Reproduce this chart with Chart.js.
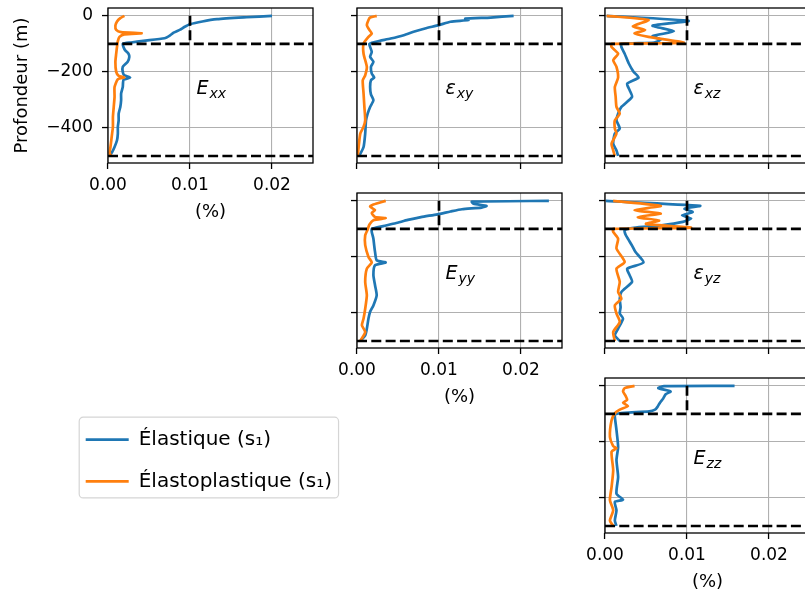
<!DOCTYPE html>
<html>
<head>
<meta charset="utf-8">
<script src="https://cdn.jsdelivr.net/npm/chart.js@4/dist/chart.umd.min.js"></script>
<style>
  body { margin: 0; background: #fff; width: 805px; height: 591px; overflow: hidden; position: relative; }
  .panel { position: absolute; }
</style>
</head>
<body>
<script>
// axes
const xTicks = [0, 0.01, 0.02];
const xTickLabels = ['0.00', '0.01', '0.02'];
const yTicks = [0, -200, -400];
const yTickLabels = ['0', '−200', '−400'];
const seriesNames = ['Élastique (s₁)', 'Élastoplastique (s₁)'];
const layerDepths = [-100, -500];   // lignes horizontales en tirets
const markerStrain = 0.01;          // tiret vertical de 0 à -100 m
const labelPos = [0.0108, -280];    // position du nom de la composante

// profils : [profondeur (m), déformation (%)]
const exxElastic = [[0,0.0200],[-5,0.0169],[-12,0.0133],[-20,0.0115],[-30,0.0100],[-40,0.0093],[-49,0.0088],[-60,0.0080],[-69,0.0076],[-80,0.0069],[-89,0.0043],[-95,0.0028],[-100,0.0018],[-112,0.0019],[-123,0.0021],[-135,0.0025],[-146,0.0026],[-164,0.0024],[-182,0.0018],[-200,0.0018],[-212,0.0020],[-220,0.0027],[-228,0.0019],[-254,0.0018],[-277,0.0016],[-301,0.0016],[-325,0.0015],[-349,0.0013],[-373,0.0013],[-396,0.0012],[-420,0.0012],[-444,0.0011],[-468,0.0008],[-486,0.0005],[-500,0.0002]];
const exxPlastic = [[0,0.0020],[-8,0.0015],[-20,0.0011],[-35,0.0009],[-50,0.0010],[-58,0.0016],[-62,0.0041],[-66,0.0020],[-75,0.0014],[-90,0.0012],[-110,0.0011],[-135,0.0010],[-165,0.0009],[-200,0.0010],[-214,0.0013],[-220,0.0020],[-226,0.0012],[-254,0.0008],[-289,0.0008],[-325,0.0007],[-361,0.0006],[-396,0.0006],[-420,0.0005],[-444,0.0004],[-468,0.0003],[-490,0.0002],[-500,0.0004]];

const exyElastic = [[0,0.0191],[-6,0.0163],[-10,0.0132],[-15,0.0136],[-21,0.0114],[-33,0.0100],[-45,0.0083],[-57,0.0069],[-69,0.0057],[-81,0.0041],[-89,0.0028],[-96,0.0018],[-100,0.0015],[-111,0.0016],[-129,0.0018],[-146,0.0016],[-164,0.0020],[-182,0.0017],[-206,0.0018],[-220,0.0021],[-230,0.0017],[-254,0.0016],[-280,0.0017],[-301,0.0020],[-325,0.0016],[-349,0.0013],[-373,0.0011],[-420,0.0010],[-468,0.0008],[-492,0.0004],[-500,0.0002]];
const exyPlastic = [[0,0.0024],[-6,0.0016],[-15,0.0014],[-33,0.0012],[-50,0.0015],[-63,0.0018],[-75,0.0014],[-99,0.0008],[-135,0.0008],[-182,0.0012],[-212,0.0010],[-230,0.0007],[-277,0.0008],[-325,0.0009],[-373,0.0010],[-396,0.0008],[-420,0.0004],[-468,0.0002],[-500,0.0001]];

const exzElastic = [[0,0.0002],[-18,0.0102],[-35,0.0058],[-55,0.0084],[-72,0.0058],[-85,0.0068],[-95,0.0060],[-100,0.0020],[-111,0.0020],[-135,0.0024],[-170,0.0029],[-200,0.0035],[-220,0.0041],[-242,0.0027],[-265,0.0030],[-289,0.0033],[-325,0.0020],[-349,0.0016],[-373,0.0014],[-402,0.0018],[-420,0.0012],[-456,0.0010],[-480,0.0014],[-500,0.0016]];
const exzPlastic = [[0,0.0002],[-15,0.0053],[-37,0.0034],[-51,0.0049],[-63,0.0036],[-75,0.0053],[-96,0.0096],[-100,0.0008],[-111,0.0008],[-135,0.0016],[-158,0.0010],[-182,0.0014],[-220,0.0016],[-254,0.0012],[-289,0.0013],[-325,0.0014],[-349,0.0018],[-373,0.0012],[-402,0.0012],[-420,0.0014],[-456,0.0008],[-480,0.0010],[-500,0.0012]];

const eyyElastic = [[0,0.0234],[-3,0.0140],[-10,0.0142],[-18,0.0158],[-24,0.0152],[-30,0.0128],[-38,0.0114],[-48,0.0098],[-58,0.0078],[-68,0.0062],[-80,0.0047],[-90,0.0032],[-100,0.0018],[-111,0.0018],[-135,0.0020],[-160,0.0021],[-182,0.0022],[-212,0.0024],[-220,0.0035],[-230,0.0022],[-265,0.0020],[-301,0.0022],[-337,0.0024],[-373,0.0020],[-396,0.0016],[-420,0.0014],[-456,0.0012],[-480,0.0010],[-500,0.0004]];
const eyyPlastic = [[0,0.0035],[-13,0.0020],[-21,0.0016],[-33,0.0022],[-43,0.0018],[-58,0.0022],[-62,0.0035],[-69,0.0020],[-85,0.0015],[-102,0.0013],[-123,0.0010],[-158,0.0010],[-200,0.0014],[-220,0.0018],[-242,0.0012],[-289,0.0010],[-337,0.0012],[-385,0.0010],[-420,0.0008],[-444,0.0006],[-468,0.0010],[-500,0.0004]];

const eyzElastic = [[0,0.0001],[-18,0.0116],[-28,0.0097],[-40,0.0107],[-52,0.0094],[-63,0.0105],[-75,0.0095],[-87,0.0069],[-96,0.0035],[-105,0.0024],[-120,0.0025],[-140,0.0029],[-160,0.0033],[-182,0.0037],[-220,0.0047],[-242,0.0027],[-265,0.0030],[-289,0.0033],[-325,0.0020],[-349,0.0018],[-380,0.0019],[-402,0.0018],[-420,0.0022],[-456,0.0016],[-480,0.0012],[-500,0.0018]];
const eyzPlastic = [[0,0.0010],[-18,0.0068],[-33,0.0036],[-45,0.0068],[-58,0.0040],[-70,0.0066],[-82,0.0050],[-96,0.0105],[-100,0.0010],[-111,0.0010],[-135,0.0016],[-170,0.0014],[-218,0.0024],[-242,0.0014],[-289,0.0018],[-325,0.0016],[-349,0.0020],[-373,0.0012],[-402,0.0014],[-432,0.0018],[-468,0.0010],[-500,0.0012]];

const ezzElastic = [[0,0.0158],[-1,0.0072],[-8,0.0065],[-20,0.0080],[-30,0.0074],[-45,0.0071],[-60,0.0067],[-75,0.0064],[-85,0.0061],[-91,0.0054],[-96,0.0024],[-102,0.0012],[-111,0.0012],[-158,0.0014],[-218,0.0016],[-265,0.0014],[-325,0.0016],[-385,0.0014],[-406,0.0022],[-414,0.0012],[-444,0.0014],[-480,0.0012],[-500,0.0014]];
const ezzPlastic = [[0,0.0036],[-8,0.0024],[-20,0.0022],[-35,0.0025],[-50,0.0027],[-60,0.0022],[-72,0.0028],[-85,0.0018],[-98,0.0012],[-123,0.0008],[-182,0.0006],[-215,0.0010],[-222,0.0014],[-235,0.0008],[-301,0.0010],[-361,0.0008],[-408,0.0006],[-444,0.0010],[-480,0.0006],[-500,0.0010]];

// disposition des sous-graphes
const panels = [
  { main: 'E', sub: 'xx', el: exxElastic, pl: exxPlastic, col: 0, row: 0, xLabels: true, yLabels: true },
  { main: 'ε', sub: 'xy', el: exyElastic, pl: exyPlastic, col: 1, row: 0 },
  { main: 'ε', sub: 'xz', el: exzElastic, pl: exzPlastic, col: 2, row: 0 },
  { main: 'E', sub: 'yy', el: eyyElastic, pl: eyyPlastic, col: 1, row: 1, xLabels: true },
  { main: 'ε', sub: 'yz', el: eyzElastic, pl: eyzPlastic, col: 2, row: 1 },
  { main: 'E', sub: 'zz', el: ezzElastic, pl: ezzPlastic, col: 2, row: 2, xLabels: true }
];

const blue = '#1f77b4', orange = '#ff7f0e';
const colLeft = [108, 357, 605], rowTop = [8, 193, 378];
const plotW = 205, plotH = 155;
const xMin = 0, xMax = 0.025, yMin = -525, yMax = 28;

Chart.defaults.font.family = '"DejaVu Sans", sans-serif';
Chart.defaults.color = '#000';

const toPoints = prof => prof.map(p => ({ x: p[1], y: p[0] }));

// cadre noir (4 côtés)
const framePlugin = {
  id: 'frame',
  afterDatasetsDraw(chart) {
    const a = chart.chartArea, c = chart.ctx;
    c.save();
    c.strokeStyle = '#000';
    c.lineWidth = 1.3;
    c.strokeRect(a.left, a.top, a.right - a.left, a.bottom - a.top);
    c.restore();
  }
};

// nom de la composante (E_xx, ε_xy ...)
const labelPlugin = {
  id: 'compLabel',
  afterDatasetsDraw(chart, args, opts) {
    const c = chart.ctx;
    const px = chart.scales.x.getPixelForValue(labelPos[0]);
    const py = chart.scales.y.getPixelForValue(labelPos[1]);
    c.save();
    c.fillStyle = '#000';
    c.textBaseline = 'alphabetic';
    c.font = 'italic 19px "DejaVu Sans"';
    c.fillText(opts.main, px, py);
    const w = c.measureText(opts.main).width;
    c.font = 'italic 14px "DejaVu Sans"';
    c.fillText(opts.sub, px + w + 1, py + 4);
    c.restore();
  }
};

function dashed(points) {
  return {
    data: points, showLine: true, pointRadius: 0,
    borderColor: '#000', borderWidth: 2.7, borderDash: [10, 4.3], order: 0
  };
}

panels.forEach(p => {
  const padL = p.yLabels ? 108 : 20;
  const padB = p.xLabels ? 62 : 12;
  const padT = 8, padR = 12;

  const div = document.createElement('div');
  div.className = 'panel';
  div.style.left = (colLeft[p.col] - padL) + 'px';
  div.style.top = (rowTop[p.row] - padT) + 'px';
  const canvas = document.createElement('canvas');
  canvas.width = plotW + padL + padR;
  canvas.height = plotH + padT + padB;
  div.appendChild(canvas);
  document.body.appendChild(div);

  const datasets = [
    { label: seriesNames[0], data: toPoints(p.el), showLine: true, pointRadius: 0,
      borderColor: blue, borderWidth: 2.7, tension: 0.2, order: 2 },
    { label: seriesNames[1], data: toPoints(p.pl), showLine: true, pointRadius: 0,
      borderColor: orange, borderWidth: 2.7, tension: 0.2, order: 1 }
  ];
  layerDepths.forEach(d => datasets.push(dashed([{ x: xMin, y: d }, { x: xMax, y: d }])));
  datasets.push(dashed([{ x: markerStrain, y: 0 }, { x: markerStrain, y: layerDepths[0] }]));

  new Chart(canvas, {
    type: 'scatter',
    data: { datasets },
    plugins: [framePlugin, labelPlugin],
    options: {
      responsive: false,
      animation: false,
      layout: { padding: { left: 0, top: padT, right: padR, bottom: 0 } },
      plugins: {
        legend: { display: false },
        tooltip: { enabled: false },
        compLabel: { main: p.main, sub: p.sub }
      },
      scales: {
        x: {
          type: 'linear', min: xMin, max: xMax,
          afterBuildTicks: s => { s.ticks = xTicks.map(v => ({ value: v })); },
          afterFit: s => { s.height = padB; s.paddingLeft = 0; s.paddingRight = 0; },
          border: { display: false },
          grid: { color: '#b0b0b0', lineWidth: 1.1, tickColor: '#000', tickLength: 6, tickWidth: 1.3 },
          ticks: { display: !!p.xLabels, autoSkip: false, maxRotation: 0, padding: 6,
                   font: { size: 17 }, callback: (v, i) => xTickLabels[i] },
          title: { display: !!p.xLabels, text: '(%)', font: { size: 18 }, padding: { top: 0, bottom: 2 } }
        },
        y: {
          type: 'linear', min: yMin, max: yMax,
          afterBuildTicks: s => { s.ticks = yTicks.map(v => ({ value: v })); },
          afterFit: s => { s.width = padL; s.paddingTop = 0; s.paddingBottom = 0; },
          border: { display: false },
          grid: { color: '#b0b0b0', lineWidth: 1.1, tickColor: '#000', tickLength: 6, tickWidth: 1.3 },
          ticks: { display: !!p.yLabels, autoSkip: false, padding: 9,
                   font: { size: 17 }, callback: (v, i) => yTickLabels[i] },
          title: { display: !!p.yLabels, text: 'Profondeur (m)', font: { size: 18 }, padding: { top: 12, bottom: 0 } }
        }
      }
    }
  });
});

// légende commune
const legendFrame = {
  id: 'legendFrame',
  beforeDraw(chart) {
    const hb = chart.legend.legendHitBoxes;
    if (!hb || !hb.length) return;
    const left = Math.min(...hb.map(b => b.left)) - 7;
    const right = Math.max(...hb.map(b => b.left + b.width)) + 6;
    const top = hb[0].top - 13;
    const bottom = hb[hb.length - 1].top + hb[hb.length - 1].height + 6;
    const c = chart.ctx;
    c.save();
    c.fillStyle = '#fff';
    c.strokeStyle = '#d5d5d5';
    c.lineWidth = 1.2;
    c.beginPath();
    c.roundRect(left + 0.5, top + 0.5, right - left, bottom - top, 4);
    c.fill();
    c.stroke();
    c.restore();
  }
};

const legDiv = document.createElement('div');
legDiv.className = 'panel';
legDiv.style.left = '64px';
legDiv.style.top = '408px';
const legCanvas = document.createElement('canvas');
legCanvas.width = 300;
legCanvas.height = 110;
legDiv.appendChild(legCanvas);
document.body.appendChild(legDiv);

new Chart(legCanvas, {
  type: 'scatter',
  data: {
    datasets: [
      { label: seriesNames[0], data: [], borderColor: blue, backgroundColor: blue, borderWidth: 2.7 },
      { label: seriesNames[1], data: [], borderColor: orange, backgroundColor: orange, borderWidth: 2.7 }
    ]
  },
  plugins: [legendFrame],
  options: {
    responsive: false,
    animation: false,
    layout: { padding: 0 },
    scales: { x: { display: false }, y: { display: false } },
    plugins: {
      tooltip: { enabled: false },
      legend: {
        position: 'top', align: 'start', maxHeight: 110,
        labels: { usePointStyle: true, pointStyle: 'line', pointStyleWidth: 43,
                  padding: 21.7, font: { size: 20 }, color: '#000' }
      }
    }
  }
});
</script>
</body>
</html>
